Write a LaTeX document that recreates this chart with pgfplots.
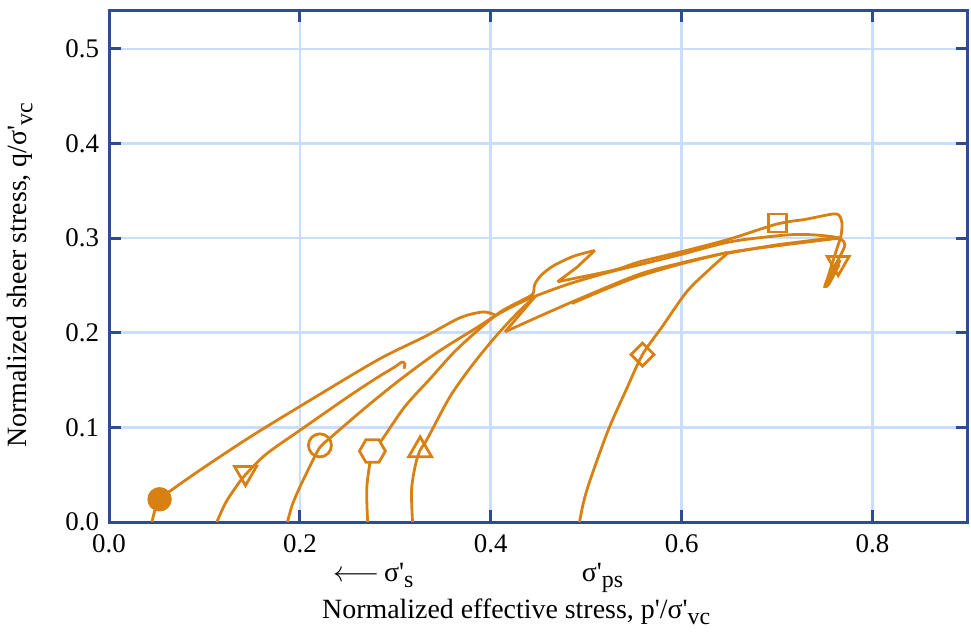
\documentclass[border=0pt]{standalone}
\usepackage{fontspec}
\setmainfont{Liberation Serif}
\usepackage{pgfplots}
\pgfplotsset{compat=1.18}
\definecolor{crv}{RGB}{217,128,18}
\definecolor{axblue}{RGB}{46,76,146}
\definecolor{gridblue}{RGB}{200,222,252}
\newcommand\sub[1]{\raisebox{-0.45ex}{\fontsize{12}{13}\selectfont #1}}
\newcommand\pr{\textquotesingle}
\pgfdeclareplotmark{hexagon}{%
  \pgfpathmoveto{\pgfpointpolar{0}{\pgfplotmarksize}}%
  \pgfpathlineto{\pgfpointpolar{60}{\pgfplotmarksize}}%
  \pgfpathlineto{\pgfpointpolar{120}{\pgfplotmarksize}}%
  \pgfpathlineto{\pgfpointpolar{180}{\pgfplotmarksize}}%
  \pgfpathlineto{\pgfpointpolar{240}{\pgfplotmarksize}}%
  \pgfpathlineto{\pgfpointpolar{300}{\pgfplotmarksize}}%
  \pgfpathclose
  \pgfusepathqfillstroke}
\begin{document}
\begin{tikzpicture}
\begin{axis}[
  at={(0,0)}, anchor=south west,
  scale only axis, width=429.5bp, height=256bp,
  xmin=0, xmax=0.9, ymin=0, ymax=0.5412,
  xtick={0,0.2,0.4,0.6,0.8}, ytick={0,0.1,0.2,0.3,0.4,0.5},
  grid=major, major grid style={gridblue, line width=1.3bp},
  axis line style={axblue, line width=1.5bp},
  tick style={axblue, line width=1.5bp},
  major tick length=6bp, tick align=inside,
  /pgf/number format/.cd, fixed, fixed zerofill, precision=1, assume math mode=true, /pgfplots/.cd,
  every tick label/.append style={font=\fontsize{13.5}{16}\selectfont},
  xticklabel style={yshift=-3bp},
  yticklabel style={xshift=-1.5bp},
  label style={font=\fontsize{14}{17}\selectfont},
  xlabel={Normalized effective stress, p\pr/σ\pr\sub{vc}},
  ylabel={Normalized sheer stress, q/σ\pr\sub{vc}},
  xlabel style={at={(axis description cs:0.474,-0.176)}, anchor=center},
  ylabel style={at={(axis description cs:-0.1036,0.482)}, anchor=center},
  clip=false,
  every axis plot/.append style={crv, line width=1.4bp},
]
% filled circle path
\addplot[no markers, smooth, tension=0.5] coordinates {(0.045,0) (0.048,0.012) (0.053,0.024) (0.07,0.037) (0.10,0.058) (0.148,0.090) (0.203,0.124) (0.281,0.171) (0.331,0.196) (0.368,0.216) (0.392,0.222) (0.404,0.219)};
% inverted triangle path
\addplot[no markers, smooth, tension=0.5] coordinates {(0.113,0) (0.122,0.02) (0.133,0.037) (0.143,0.050) (0.165,0.072) (0.203,0.099) (0.25,0.132) (0.28,0.152) (0.298,0.163) (0.307,0.169) (0.310,0.167) (0.309,0.162)};
% circle path
\addplot[no markers, smooth, tension=0.5] coordinates {(0.187,0) (0.192,0.018) (0.200,0.037) (0.212,0.062) (0.221,0.079) (0.233,0.090) (0.27,0.122) (0.307,0.152) (0.345,0.180) (0.383,0.204) (0.41,0.221) (0.44,0.236) (0.48,0.251) (0.52,0.263) (0.556,0.272) (0.60,0.283) (0.65,0.296) (0.70,0.3025) (0.727,0.304) (0.755,0.302) (0.767,0.299) (0.771,0.293) (0.767,0.283) (0.760,0.270) (0.755,0.258) (0.752,0.251) (0.757,0.257) (0.765,0.272)};
% hexagon / square path
\addplot[no markers, smooth, tension=0.5] coordinates {(0.271,0) (0.270,0.034) (0.273,0.060) (0.276,0.075) (0.286,0.087) (0.31,0.122) (0.337,0.152) (0.362,0.180) (0.388,0.204) (0.41,0.222) (0.432,0.234) (0.444,0.241) (0.446,0.251) (0.453,0.261) (0.466,0.271) (0.487,0.281) (0.509,0.287)};
\addplot[no markers, sharp plot] coordinates {(0.509,0.287) (0.490,0.269) (0.470,0.254)};
\addplot[no markers, smooth, tension=0.5] coordinates {(0.470,0.254) (0.528,0.266) (0.556,0.275) (0.605,0.287) (0.65,0.299) (0.700,0.315) (0.730,0.320) (0.758,0.3255) (0.765,0.324) (0.768,0.316) (0.767,0.303) (0.763,0.290) (0.758,0.274) (0.753,0.258) (0.750,0.249) (0.754,0.251) (0.760,0.263) (0.766,0.277)};
% triangle path
\addplot[no markers, smooth, tension=0.5] coordinates {(0.318,0) (0.317,0.034) (0.321,0.060) (0.326,0.076) (0.333,0.087) (0.357,0.132) (0.38,0.165) (0.405,0.196) (0.428,0.221) (0.447,0.239)};
\addplot[no markers, sharp plot] coordinates {(0.447,0.239) (0.415,0.201)};
\addplot[no markers, smooth, tension=0.5] coordinates {(0.415,0.201) (0.45,0.217) (0.50,0.239) (0.556,0.262) (0.60,0.274) (0.65,0.285) (0.70,0.292) (0.765,0.300)};
% diamond path
\addplot[no markers, smooth, tension=0.5] coordinates {(0.493,0) (0.497,0.020) (0.504,0.044) (0.523,0.097) (0.542,0.140) (0.559,0.177) (0.58,0.207) (0.605,0.243) (0.628,0.266) (0.648,0.284)};
\addplot[no markers, smooth, tension=0.5] coordinates {(0.648,0.284) (0.70,0.293) (0.765,0.301)};
% short stroke
\addplot[no markers, smooth, tension=0.5] coordinates {(0.485,0.231) (0.52,0.246) (0.556,0.260) (0.60,0.273) (0.648,0.285)};
% markers
\addplot[only marks, mark=*, mark size=5.4bp, mark options={fill=crv, draw=crv}] coordinates {(0.053,0.024)};
\addplot[only marks, mark=triangle, mark size=6.35bp, mark options={fill=white, rotate=180, line width=1.4bp}] coordinates {(0.143,0.052) (0.764,0.274)};
\addplot[only marks, mark=o, mark size=5.75bp, mark options={fill=white, line width=1.4bp}] coordinates {(0.221,0.081)};
\addplot[only marks, mark=hexagon, mark size=6.5bp, mark options={fill=white, line width=1.4bp}] coordinates {(0.276,0.075)};
\addplot[only marks, mark=triangle, mark size=6.6bp, mark options={fill=white, line width=1.4bp}] coordinates {(0.326,0.076)};
\addplot[only marks, mark=square, mark size=4.07bp, mark options={fill=white, rotate=45, line width=1.4bp}] coordinates {(0.559,0.177)};
\addplot[only marks, mark=square, mark size=4.5bp, mark options={fill=white, line width=1.4bp}] coordinates {(0.700,0.316)};
% annotations
\node[anchor=base west, font=\fontsize{14}{17}\selectfont, inner sep=0pt] at (axis cs:0.2346,-0.0634) {$\longleftarrow$\,σ\pr\sub{s}};
\node[anchor=base west, font=\fontsize{14}{17}\selectfont, inner sep=0pt] at (axis cs:0.495,-0.0634) {σ\pr\sub{ps}};
\end{axis}
\pgfresetboundingbox
\path[use as bounding box] (-54.5bp,-56bp) rectangle (431bp,261bp);
\end{tikzpicture}
\end{document}
